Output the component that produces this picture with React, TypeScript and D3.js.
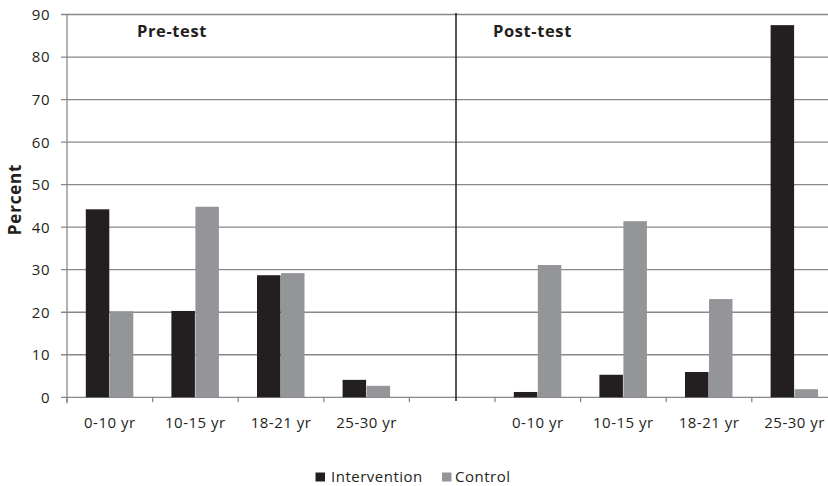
import React from "react";
import * as d3 from "d3";

const slots = ["pre-0", "pre-1", "pre-2", "pre-3", "gap", "post-0", "post-1", "post-2", "post-3"];
const slotLabels = ["0-10 yr", "10-15 yr", "18-21 yr", "25-30 yr", "", "0-10 yr", "10-15 yr", "18-21 yr", "25-30 yr"];
const intervention = [44.2, 20.3, 28.7, 4.1, null, 1.25, 5.3, 5.95, 87.5];
const control = [20.2, 44.8, 29.2, 2.7, null, 31.1, 41.4, 23.1, 1.9];
const yTicks = [0, 10, 20, 30, 40, 50, 60, 70, 80, 90];
const seriesNames = ["Intervention", "Control"];
const seriesColors = ["#231f20", "#939598"];
const panelTitles = ["Pre-test", "Post-test"];

const W = 828;
const H = 486;
const left = 67;
const right = 837.4;
const top = 14.5;
const bottom = 397.3;
const FONT = "'Open Sans', sans-serif";

export default function App() {
  const x = d3.scaleBand<string>().domain(slots).range([left, right]).paddingInner(0).paddingOuter(0);
  const bw = x.bandwidth();
  const inner = d3.scaleBand<string>().domain(seriesNames).range([18.8, bw - 18.8]).padding(0);
  const y = d3.scaleLinear().domain([0, 90]).range([bottom, top]);
  const series = [intervention, control];
  const dividerX = 456;

  return (
    <svg width={W} height={H} style={{ position: "absolute", left: 0, top: 0, background: "#fff" }} fontFamily={FONT}>
      <rect x={0} y={0} width={W} height={H} fill="#fff" />
      {yTicks.map((t) => (
        <line key={"g" + t} x1={left - 6} x2={W} y1={y(t)} y2={y(t)} stroke="#888" strokeWidth={1.3} />
      ))}
      {yTicks.map((t) => (
        <text key={"yl" + t} x={50} y={y(t)} dy="0.36em" textAnchor="end" fontSize={15} letterSpacing={0.5} fill="#231f20">
          {t}
        </text>
      ))}
      <line x1={left} x2={left} y1={top} y2={bottom + 6} stroke="#888" strokeWidth={1.3} />
      {slots.map((s) => (
        <line key={"xt" + s} x1={x(s)!} x2={x(s)!} y1={bottom} y2={bottom + 5} stroke="#888" strokeWidth={1.3} />
      ))}
      {series.map((vals, si) =>
        slots.map((s, i) => {
          const v = vals[i];
          if (v == null) return null;
          const bx = x(s)! + inner(seriesNames[si])!;
          return (
            <rect
              key={si + "-" + s}
              x={bx}
              y={y(v)}
              width={inner.bandwidth() - 0.5}
              height={y(0) - y(v)}
              fill={seriesColors[si]}
            />
          );
        })
      )}
      <line x1={dividerX} x2={dividerX} y1={13} y2={401} stroke="#231f20" strokeWidth={1.5} />
      {slots.map((s, i) => (
        <text key={"xl" + s} x={x(s)! + bw / 2} y={428} textAnchor="middle" fontSize={15} letterSpacing={0.5} fill="#231f20">
          {slotLabels[i]}
        </text>
      ))}
      <text x={137} y={36.5} fontSize={16.5} letterSpacing={0.6} fontWeight="bold" fill="#231f20">{panelTitles[0]}</text>
      <text x={493} y={36.5} fontSize={16.5} letterSpacing={0.6} fontWeight="bold" fill="#231f20">{panelTitles[1]}</text>
      <text transform="translate(21,199.5) rotate(-90)" textAnchor="middle" fontSize={17} letterSpacing={0.8} fontWeight="bold" fill="#231f20">
        Percent
      </text>
      <rect x={315.5} y={472.5} width={9.5} height={9} fill={seriesColors[0]} />
      <text x={331} y={482} fontSize={15} letterSpacing={0.5} fill="#231f20">{seriesNames[0]}</text>
      <rect x={442} y={472.5} width={9.5} height={9} fill={seriesColors[1]} />
      <text x={455} y={482} fontSize={15} letterSpacing={0.5} fill="#231f20">{seriesNames[1]}</text>
    </svg>
  );
}
